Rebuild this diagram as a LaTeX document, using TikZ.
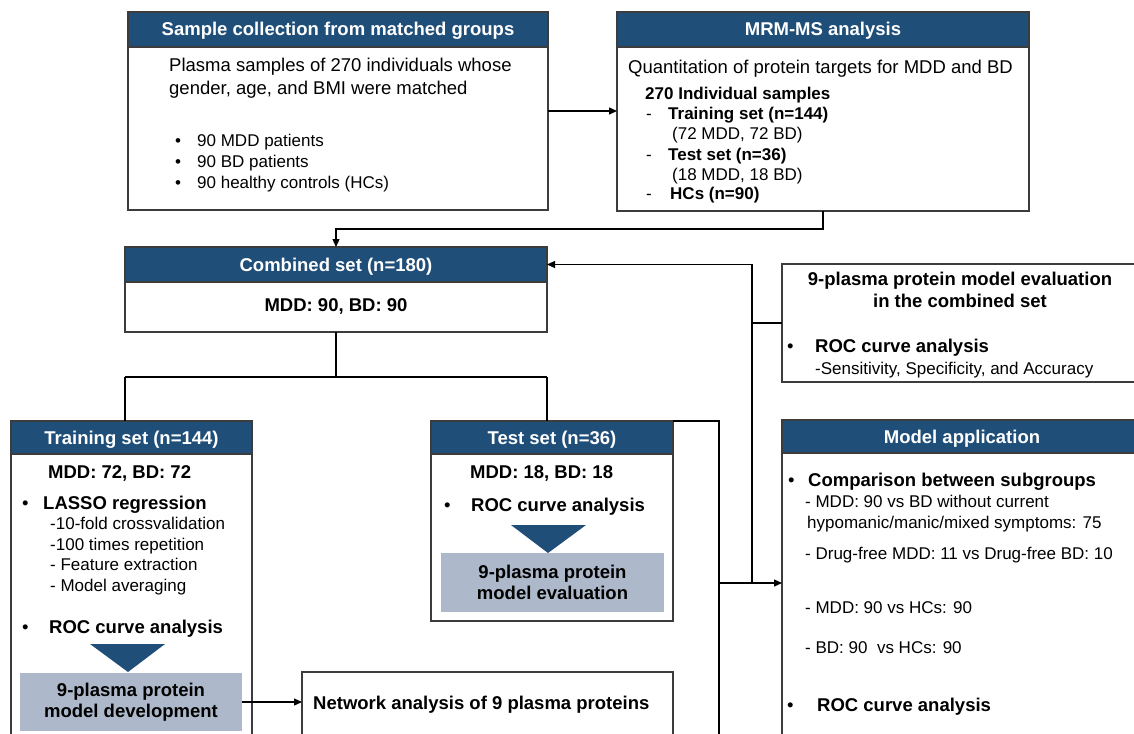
\documentclass[tikz,border=0pt]{standalone}
\usepackage{fontspec}
\setmainfont{Liberation Sans}
\usetikzlibrary{arrows.meta,calc}
\definecolor{hdr}{RGB}{31,78,121}
\definecolor{grayb}{RGB}{173,185,202}
\definecolor{bord}{RGB}{60,60,60}
\newcommand\fszB{\fontsize{18.5pt}{21pt}\selectfont}
\newcommand\fszS{\fontsize{17pt}{20pt}\selectfont}
\begin{document}
\begin{tikzpicture}[x=1pt,y=-1pt,
 boxf/.style={draw=bord,fill=white,line width=1.2pt,inner sep=0pt,outer sep=0pt,anchor=north west},
 head/.style={boxf,fill=hdr,text=white,font=\fszB\bfseries,text height=17pt,text depth=4pt},
 gbox/.style={fill=grayb,inner sep=0pt,outer sep=0pt,anchor=north west,align=center,font=\fszB\bfseries},
 tb/.style={inner sep=0pt,anchor=base west,font=\fszB},
 tbb/.style={tb,font=\fszB\bfseries},
 ts/.style={tb,font=\fszS},
 tsb/.style={tb,font=\fszS\bfseries},
 conn/.style={line width=1.2pt,black},
 arr/.style={conn,-{Triangle[length=8pt,width=7pt]}},
 tri/.style={fill=hdr}]
\useasboundingbox (0,0) rectangle (1134,733);
\clip (0,0) rectangle (1134,733);
% Box 1
\node[boxf,minimum width=420pt,minimum height=198pt] (b1) at (128,12) {};
\node[head,minimum width=420pt,minimum height=35pt] (b1h) at (128,12) {Sample collection from matched groups};
\node[tb] (b1t1) at (169,71.5) {Plasma samples of 270 individuals whose};
\node[tb] (b1t2) at (169,94.5) {gender, age, and BMI were matched};
\node[ts] (b1d1) at (175,146.5) {•};
\node[ts] (b1l1) at (197,146.5) {90 MDD patients};
\node[ts] (b1d2) at (175,167.5) {•};
\node[ts] (b1l2) at (197,167.5) {90 BD patients};
\node[ts] (b1d3) at (175,188.5) {•};
\node[ts] (b1l3) at (197,188.5) {90 healthy controls (HCs)};
% Box 2
\node[boxf,minimum width=412pt,minimum height=199pt] (b2) at (617,12) {};
\node[head,minimum width=412pt,minimum height=35pt] (b2h) at (617,12) {MRM-MS analysis};
\node[tb] (b2t1) at (628,73.5) {Quantitation of protein targets for MDD and BD};
\node[tsb] (b2t2) at (645,99.5) {270 Individual samples};
\node[ts] (b2d1) at (646,119.5) {-};
\node[tsb] (b2t3) at (668,119.5) {Training set (n=144)};
\node[ts] (b2t4) at (672,139.5) {(72 MDD, 72 BD)};
\node[ts] (b2d2) at (646,160.5) {-};
\node[tsb] (b2t5) at (668,160.5) {Test set (n=36)};
\node[ts] (b2t6) at (672,180.5) {(18 MDD, 18 BD)};
\node[ts] (b2d3) at (646,199.5) {-};
\node[tsb] (b2t7) at (670,199.5) {HCs (n=90)};
% Combined
\node[boxf,minimum width=422pt,minimum height=85pt] (comb) at (125,247) {};
\node[head,minimum width=422pt,minimum height=35pt] (combh) at (125,247) {Combined set (n=180)};
\node[tbb,anchor=base] (combt) at (336,311.5) {MDD: 90, BD: 90};
% Evaluation in combined set
\node[boxf,minimum width=370pt,minimum height=118pt] (eval) at (782,264) {};
\node[tbb,anchor=base] (evt1) at (960,285.5) {9-plasma protein model evaluation};
\node[tbb,anchor=base] (evt2) at (960,307.5) {in the combined set};
\node[tb] (evd) at (787,352.5) {•};
\node[tbb] (evt3) at (815,352.5) {ROC curve analysis};
\node[ts] (evt4) at (815,374.5) {-Sensitivity, Specificity, and Accuracy};
% Training set
\node[boxf,minimum width=241pt,minimum height=330pt] (train) at (11,421) {};
\node[head,minimum width=241pt,minimum height=33pt] (trainh) at (11,421) {Training set (n=144)};
\node[tbb] (trt1) at (48,478.5) {MDD: 72, BD: 72};
\node[tb] (trd1) at (22,509.5) {•};
\node[tbb] (trt2) at (43,509.5) {LASSO regression};
\node[ts] (trt3) at (50,529.5) {-10-fold crossvalidation};
\node[ts] (trt4) at (50,550.5) {-100 times repetition};
\node[ts] (trt5) at (50,570.5) {- Feature extraction};
\node[ts] (trt6) at (50,591) {- Model averaging};
\node[tb] (trd2) at (22,633) {•};
\node[tbb] (trt7) at (49,633) {ROC curve analysis};
\fill[tri] (90,644) -- (165,644) -- (128,672) -- cycle;
\node[gbox,minimum width=222pt,minimum height=58pt] (dev) at (20,673) {9-plasma protein\\model development};
% Test set
\node[boxf,minimum width=242pt,minimum height=200pt] (test) at (431,421) {};
\node[head,minimum width=242pt,minimum height=33pt] (testh) at (431,421) {Test set (n=36)};
\node[tbb] (tet1) at (470,478.5) {MDD: 18, BD: 18};
\node[tb] (ted1) at (444,511.5) {•};
\node[tbb] (tet2) at (471,511.5) {ROC curve analysis};
\fill[tri] (511,525) -- (586,525) -- (548,553) -- cycle;
\node[gbox,minimum width=223pt,minimum height=59pt] (tev) at (441,553) {9-plasma protein\\model evaluation};
% Network analysis
\node[boxf,minimum width=371pt,minimum height=80pt] (net) at (302,672) {};
\node[tbb] (nett) at (313,709.5) {Network analysis of 9 plasma proteins};
% Model application
\node[boxf,minimum width=360pt,minimum height=330pt] (mapp) at (782,420) {};
\node[head,minimum width=360pt,minimum height=33pt] (mapph) at (782,420) {Model application};
\node[tb] (mad1) at (788,486.5) {•};
\node[tbb] (mat1) at (808,486.5) {Comparison between subgroups};
\node[ts] (mat2) at (805,507.5) {- MDD: 90 vs BD without current};
\node[ts] (mat3) at (807,528.5) {hypomanic/manic/mixed symptoms: 75};
\node[ts] (mat4) at (805,559.5) {- Drug-free MDD: 11 vs Drug-free BD: 10};
\node[ts] (mat5) at (805,613.5) {- MDD: 90 vs HCs: 90};
\node[ts] (mat6) at (805,653.5) {- BD: 90 \ vs HCs: 90};
\node[tb] (mad2) at (787,711.5) {•};
\node[tbb] (mat7) at (817,711.5) {ROC curve analysis};
% Connectors
\draw[arr] (b1.east) -- (b1.east -| b2.west);
\draw[arr] (b2.south) -- ++(0,18) -| (combh.north);
\coordinate (split) at ($(comb.south)+(0,45)$);
\draw[conn] (comb.south) -- (split);
\draw[conn] (comb.west |- split) -- (comb.east |- split);
\draw[conn] (comb.west |- split) -- (comb.west |- train.north);
\draw[conn] (comb.east |- split) -- (comb.east |- test.north);
\coordinate (tdrop) at (719,740);
\draw[conn] (test.north east) -| (tdrop);
\coordinate (jn) at (719,583);
\draw[arr] (jn) -- (jn -| mapp.west);
\coordinate (vx) at (752,583);
\draw[arr] (vx) |- (combh.east);
\draw[conn] (vx |- eval.west) -- (eval.west);
\draw[arr] (dev.east) -- (dev.east -| net.west);
\end{tikzpicture}
\end{document}
